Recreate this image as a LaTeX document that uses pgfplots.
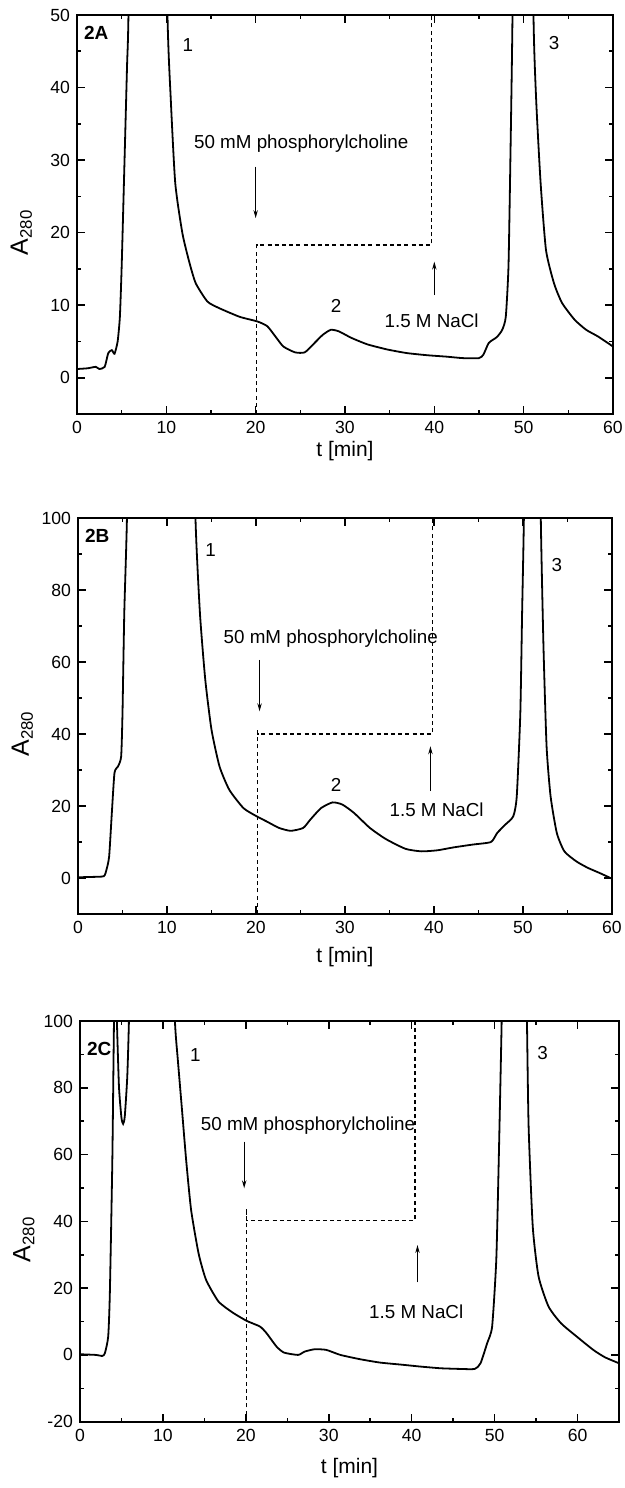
\documentclass[border=0pt]{standalone}
\usepackage{fontspec}
\setmainfont{Liberation Sans}
\usepackage{pgfplots}
\pgfplotsset{compat=1.18}
\usetikzlibrary{arrows.meta}

\pgfplotsset{
  panel/.style={
    scale only axis,
    axis line style={line width=0.9pt},
    tick style={line width=0.8pt, black},
    major tick length=4pt,
    minor tick length=2pt,
    tick align=inside,
    tick pos=both,
    xticklabel pos=bottom,
    yticklabel pos=left,
    minor x tick num=1,
    minor y tick num=1,
    /pgf/number format/assume math mode=true,
    ticklabel style={font=\fontsize{8.8}{10}\selectfont},
    xlabel={t [min]},
    ylabel={\fontsize{12.5}{14}\selectfont A\raisebox{-0.3ex}{\fontsize{8.4}{9}\selectfont 280}},
    xlabel style={font=\fontsize{10.5}{12}\selectfont, anchor=center},
    ylabel style={at={(axis description cs:-0.104,0.454)}, anchor=center},
    clip=true,
  },
  trace/.style={black, line width=0.9pt, no markers, smooth, tension=0.35},
  stepline/.style={black, line width=0.55pt, dash pattern=on 2pt off 1.6pt, no markers},
}
\tikzset{
  note/.style={font=\fontsize{9.4}{11}\selectfont},
  tag/.style={font=\fontsize{9.5}{11}\selectfont\bfseries, anchor=west},
  arr/.style={-{Stealth[length=4pt,width=2.2pt]}, line width=0.5pt},
}

\begin{document}
\begin{tikzpicture}
\useasboundingbox (0,0) rectangle (312.5pt,744pt);

% ---------------- 2A ----------------
\begin{axis}[panel, at={(38.5pt,537pt)}, anchor=south west,
  width=268pt, height=199.5pt,
  xmin=0, xmax=60, ymin=-5, ymax=50,
  xtick={0,10,...,60}, ytick={0,10,...,50},
  xlabel style={at={(axis description cs:0.5,-0.093)}}]
\addplot[trace] coordinates {
 (0,1.2) (1.2,1.3) (2.1,1.5) (2.5,1.2) (3.1,1.5) (3.5,3.4) (3.9,3.8) (4.2,3.3)
 (4.55,5) (4.8,8.4) (5.0,15.3) (5.3,29) (5.6,42.9) (5.76,50) (6.2,90)
 (9.7,90) (10.13,50) (10.5,38.3) (11.0,26.8) (11.8,19.9) (12.6,15.8) (13.3,13.0)
 (14.6,10.5) (15.9,9.6) (18.2,8.4) (20.2,7.75) (21.3,7.1) (22.2,5.7)
 (23.1,4.3) (24.4,3.5) (25.5,3.5) (26.6,4.8) (27.5,5.9) (28.4,6.6)
 (29.3,6.4) (30.7,5.5) (32.5,4.6) (34.7,3.9) (36.9,3.4) (39.2,3.1)
 (41.4,2.9) (43.2,2.7) (45.0,2.7) (45.5,3.2) (46.1,4.8) (47.0,5.6)
 (47.6,6.6) (48.0,8.4) (48.3,15.3) (48.5,29) (48.75,50) (49.0,90)
 (50.8,90) (51.1,50) (51.4,38.3) (51.9,26.8) (52.5,17.6) (53.4,13.0) (54.3,10.3)
 (55.7,8.0) (57.0,6.6) (58.3,5.7) (60,4.3)
};
\addplot[stepline] coordinates {(20.1,-5) (20.1,18.3) (39.7,18.3) (39.7,50)};
\draw[arr] (axis cs:20,29.1) -- (axis cs:20,22);
\draw[arr] (axis cs:40,11.4) -- (axis cs:40,16.0);
\node[note] at (axis cs:25.1,32.3) {50 mM phosphorylcholine};
\node[note] at (axis cs:39.7,7.9) {1.5 M NaCl};
\node[note] at (axis cs:29.0,9.9) {2};
\node[note] at (axis cs:12.4,45.9) {1};
\node[note] at (axis cs:53.4,46.1) {3};
\node[tag] at (rel axis cs:0.0,0.954) {2A};
\end{axis}

% ---------------- 2B ----------------
\begin{axis}[panel, at={(39pt,287pt)}, anchor=south west,
  width=267pt, height=198pt,
  xmin=0, xmax=60, ymin=-10, ymax=100,
  xtick={0,10,...,60}, ytick={0,20,...,100},
  xlabel style={at={(axis description cs:0.5,-0.108)}}]
\addplot[trace] coordinates {
 (0,0.2) (1.6,0.3) (2.9,0.5) (3.2,2.3) (3.5,6) (3.8,18) (4.1,29.2)
 (4.5,31) (4.85,33.8) (5.0,45.8) (5.2,73.6) (5.5,100) (5.8,150)
 (12.9,150) (13.2,100) (13.7,73.6) (14.3,55.1) (15.0,41.2) (15.9,31) (17.0,24.5)
 (18.6,19.4) (20.1,17.1) (21.2,15.7) (22.6,13.9) (23.9,13.1) (25.3,13.9)
 (26.1,16.2) (27.3,19.4) (28.6,21.0) (29.7,20.4) (31.0,18.1) (32.8,13.9)
 (34.6,10.8) (36.8,8.1) (38.6,7.4) (40.4,7.7) (42.2,8.5) (44.4,9.3)
 (46.4,10.0) (47.1,12.5) (48.0,14.8) (48.9,17.1) (49.3,22.7) (49.7,45.8)
 (49.9,73.6) (50.1,100) (50.3,150)
 (51.8,150) (52.0,100) (52.3,64.4) (52.65,36.6) (53.1,22.7) (53.8,12.5) (54.65,7.4)
 (56.0,4.6) (57.3,2.8) (58.6,1.4) (60,-0.2)
};
\addplot[stepline] coordinates {(20.2,-10) (20.2,41.5) (20.2,40) (39.8,40) (39.8,100)};
\draw[arr] (axis cs:20.4,60.6) -- (axis cs:20.4,46.3);
\draw[arr] (axis cs:39.6,24.1) -- (axis cs:39.6,36.6);
\node[note] at (axis cs:28.4,66.4) {50 mM phosphorylcholine};
\node[note] at (axis cs:40.3,19) {1.5 M NaCl};
\node[note] at (axis cs:29.0,25.9) {2};
\node[note] at (axis cs:14.9,91.2) {1};
\node[note] at (axis cs:53.8,87) {3};
\node[tag] at (rel axis cs:0.0,0.954) {2B};
\end{axis}

% ---------------- 2C ----------------
\begin{axis}[panel, at={(40pt,33.15pt)}, anchor=south west,
  width=269.5pt, height=200.35pt,
  xmin=0, xmax=65, ymin=-20, ymax=100,
  xtick={0,10,...,60}, ytick={-20,0,...,100},
  xlabel style={at={(axis description cs:0.5,-0.115)}}]
\addplot[trace] coordinates {
 (0,0.2) (1.9,0) (2.7,-0.3) (3.0,0.5) (3.4,5.5) (3.6,18.5) (3.9,58.4)
 (4.1,100) (4.27,120) (4.45,100) (4.7,80.3) (5.0,71) (5.2,69.2) (5.4,71.4)
 (5.7,83.3) (5.9,100) (6.1,130)
 (11.2,130) (11.45,100) (11.8,88.3) (12.3,73.4) (12.8,58.4) (13.4,43.4) (14.3,30.4)
 (15.2,22.5) (16.7,16) (18.4,12.7) (20.1,10.2) (21.7,8.5) (22.5,6.5)
 (23.7,2.5) (24.6,0.7) (26.3,0) (27.1,1.0) (28.3,1.7) (29.7,1.5)
 (31.4,0) (33.8,-1.3) (36.2,-2.3) (38.7,-2.9) (41.1,-3.5) (43.5,-4.0)
 (45.9,-4.2) (47.6,-4.2) (48.3,-2.5) (49.1,3.5) (49.7,8.5) (50.2,28.4)
 (50.5,58.4) (50.85,100) (51.0,130)
 (53.7,130) (53.9,100) (54.1,68.4) (54.6,38.4) (55.3,23.5) (56.5,14.5) (58.0,9.5)
 (59.9,5.5) (61.9,1.5) (63.3,-0.7) (65,-2.5)
};
\addplot[stepline] coordinates {(20.06,-20) (20.06,43.9) (20.06,40.2) (40.4,40.2) (40.4,100)};
\draw[arr] (axis cs:19.8,63.9) -- (axis cs:19.8,49.9);
\draw[arr] (axis cs:40.7,21.7) -- (axis cs:40.7,32.9);
\node[note] at (axis cs:27.5,68.7) {50 mM phosphorylcholine};
\node[note] at (axis cs:40.55,13) {1.5 M NaCl};
\node[note] at (axis cs:13.9,89.8) {1};
\node[note] at (axis cs:55.8,90.5) {3};
\node[tag] at (rel axis cs:0.0,0.93) {2C};
\end{axis}
\end{tikzpicture}
\end{document}
